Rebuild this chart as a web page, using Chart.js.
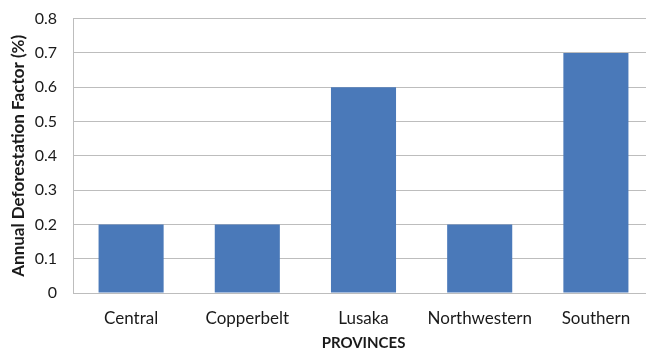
<!DOCTYPE html>
<html>
<head>
<meta charset="utf-8">
<script src="https://cdn.jsdelivr.net/npm/chart.js@4.4.1/dist/chart.umd.min.js"></script>
<style>
  html, body { margin: 0; padding: 0; background: #fff; overflow: hidden; }
  #wrap { width: 654px; height: 359px; margin-top: -7px; position: relative; }
</style>
</head>
<body>
<div id="wrap"><canvas id="chart"></canvas></div>
<script>
// Annual deforestation factor by province
const provinces = ["Central", "Copperbelt", "Lusaka", "Northwestern", "Southern"];
const deforestationFactor = [0.2, 0.2, 0.6, 0.2, 0.7];
const yTicks = [0, 0.1, 0.2, 0.3, 0.4, 0.5, 0.6, 0.7, 0.8];

const FONT = "Lato, 'Open Sans', sans-serif";
const gridGray = "#bdbdbd";

new Chart(document.getElementById("chart"), {
  type: "bar",
  data: {
    labels: provinces,
    datasets: [{
      data: deforestationFactor,
      backgroundColor: "#4a79b9",
      borderWidth: 0,
      barPercentage: 0.56,
      categoryPercentage: 1.0
    }]
  },
  options: {
    responsive: true,
    maintainAspectRatio: false,
    animation: false,
    layout: { padding: { top: 11, right: 0, bottom: 0, left: 0 } },
    plugins: { legend: { display: false }, tooltip: { enabled: false } },
    scales: {
      x: {
        grid: { display: false, drawTicks: false },
        border: { display: true, color: gridGray, width: 1 },
        ticks: { color: "#1a1a1a", font: { family: FONT, size: 17 }, padding: 15, maxRotation: 0, autoSkip: false },
        title: { display: true, text: "PROVINCES", color: "#1a1a1a", font: { family: FONT, size: 15, weight: "bold" }, padding: { top: 10, bottom: 0 } },
        afterFit(scale) { scale.height = 59; }
      },
      y: {
        min: 0, max: 0.8,
        afterBuildTicks(scale) { scale.ticks = yTicks.map(v => ({ value: v })); },
        grid: { color: gridGray, lineWidth: 1, drawTicks: false },
        border: { display: true, color: gridGray, width: 1 },
        ticks: {
          color: "#1a1a1a", font: { family: FONT, size: 16 }, padding: 16,
          callback: v => (v === 0 ? "0" : v.toFixed(1))
        },
        title: { display: true, text: "Annual Deforestation Factor (%)", color: "#1a1a1a", font: { family: FONT, size: 17, weight: "bold" }, padding: { top: 8, bottom: 4 } },
        afterFit(scale) { scale.width = 73; }
      }
    }
  }
});
</script>
</body>
</html>
